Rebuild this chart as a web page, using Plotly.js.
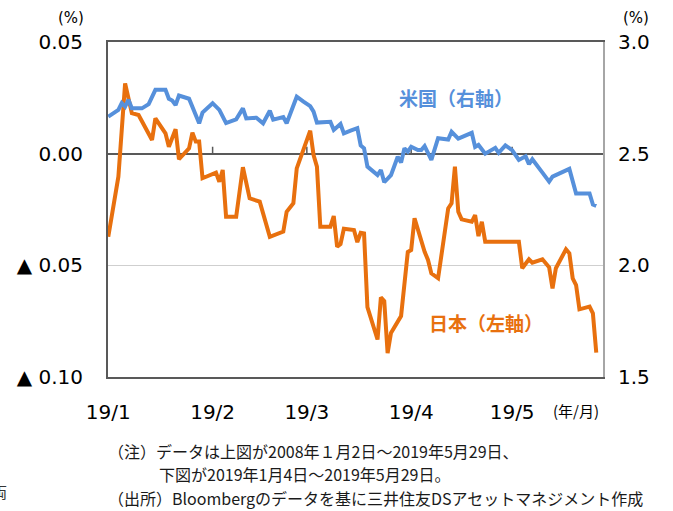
<!DOCTYPE html>
<html>
<head>
<meta charset="utf-8">
<script src="https://cdn.plot.ly/plotly-3.0.1.min.js"></script>
<style>
  html, body { margin: 0; padding: 0; background: #fff; }
  #chart { width: 673px; height: 511px; }
</style>
</head>
<body>
<div id="chart"></div>
<script>
// 日本 10年国債利回り（左軸, %）
const jpDates = [
  '2019-01-04', '2019-01-07', '2019-01-09', '2019-01-11', '2019-01-13', '2019-01-17', '2019-01-18',
  '2019-01-21', '2019-01-22', '2019-01-24', '2019-01-25', '2019-01-28', '2019-01-29', '2019-01-30',
  '2019-01-31', '2019-02-01', '2019-02-05', '2019-02-06', '2019-02-07', '2019-02-08', '2019-02-11',
  '2019-02-13', '2019-02-15', '2019-02-18', '2019-02-21', '2019-02-25', '2019-02-26', '2019-02-28',
  '2019-03-01', '2019-03-04', '2019-03-05', '2019-03-06', '2019-03-07', '2019-03-08', '2019-03-11',
  '2019-03-12', '2019-03-13', '2019-03-14', '2019-03-15', '2019-03-18', '2019-03-19', '2019-03-20',
  '2019-03-21', '2019-03-22', '2019-03-25', '2019-03-26', '2019-03-27', '2019-03-28', '2019-03-29',
  '2019-04-01', '2019-04-03', '2019-04-04', '2019-04-05', '2019-04-08', '2019-04-09', '2019-04-10',
  '2019-04-12', '2019-04-15', '2019-04-16', '2019-04-17', '2019-04-18', '2019-04-19', '2019-04-22',
  '2019-04-23', '2019-04-24', '2019-04-25', '2019-04-26', '2019-05-06', '2019-05-07', '2019-05-09',
  '2019-05-10', '2019-05-13', '2019-05-15', '2019-05-16', '2019-05-17', '2019-05-20', '2019-05-21',
  '2019-05-22', '2019-05-23', '2019-05-24', '2019-05-27', '2019-05-28', '2019-05-29'
];
const jpYield = [
  -0.0372, -0.0103, 0.0315, 0.0181, 0.0173, 0.0061, 0.0158,
  0.0091, 0.0031, 0.0109, -0.0025, 0.0024, 0.0094, 0.0054,
  0.0054, -0.0110, -0.0085, -0.0126, -0.0073, -0.0282, -0.0282,
  -0.0061, -0.0200, -0.0215, -0.0372, -0.0349, -0.0260, -0.0222,
  -0.0066, 0.0054, 0.0103, -0.0006, -0.0058, -0.0327, -0.0327,
  -0.0279, -0.0417, -0.0405, -0.0336, -0.0342, -0.0396, -0.0354,
  -0.0357, -0.0687, -0.0832, -0.0644, -0.0660, -0.0893, -0.0803,
  -0.0727, -0.0440, -0.0431, -0.0289, -0.0439, -0.0476, -0.0536,
  -0.0558, -0.0245, -0.0222, -0.0058, -0.0260, -0.0294, -0.0305,
  -0.0275, -0.0369, -0.0305, -0.0394, -0.0394, -0.0513, -0.0473,
  -0.0488, -0.0473, -0.0509, -0.0603, -0.0513, -0.0428, -0.0446,
  -0.0558, -0.0588, -0.0697, -0.0685, -0.0715, -0.0891
];

// 米国 10年国債利回り（右軸, %）
const usDates = [
  '2019-01-04', '2019-01-07', '2019-01-08', '2019-01-09', '2019-01-10', '2019-01-11', '2019-01-14',
  '2019-01-16', '2019-01-18', '2019-01-21', '2019-01-22', '2019-01-23', '2019-01-24', '2019-01-25',
  '2019-01-28', '2019-01-29', '2019-01-31', '2019-02-01', '2019-02-04', '2019-02-06', '2019-02-08',
  '2019-02-11', '2019-02-13', '2019-02-14', '2019-02-17', '2019-02-19', '2019-02-21', '2019-02-22',
  '2019-02-25', '2019-02-26', '2019-03-01', '2019-03-03', '2019-03-05', '2019-03-06', '2019-03-07',
  '2019-03-11', '2019-03-12', '2019-03-14', '2019-03-15', '2019-03-17', '2019-03-19', '2019-03-20',
  '2019-03-21', '2019-03-22', '2019-03-25', '2019-03-26', '2019-03-27', '2019-03-29', '2019-03-31',
  '2019-04-01', '2019-04-02', '2019-04-03', '2019-04-04', '2019-04-06', '2019-04-07', '2019-04-08',
  '2019-04-10', '2019-04-12', '2019-04-15', '2019-04-16', '2019-04-18', '2019-04-22', '2019-04-23',
  '2019-04-24', '2019-04-26', '2019-04-29', '2019-04-30', '2019-05-02', '2019-05-04', '2019-05-06',
  '2019-05-08', '2019-05-09', '2019-05-10', '2019-05-13', '2019-05-14', '2019-05-15', '2019-05-16',
  '2019-05-21', '2019-05-23', '2019-05-27', '2019-05-28', '2019-05-29'
];
const usYield = [
  2.666, 2.696, 2.727, 2.710, 2.742, 2.703, 2.703,
  2.722, 2.786, 2.786, 2.746, 2.738, 2.718, 2.760,
  2.746, 2.710, 2.636, 2.684, 2.726, 2.696, 2.637,
  2.654, 2.703, 2.658, 2.661, 2.636, 2.692, 2.652,
  2.664, 2.636, 2.755, 2.733, 2.713, 2.688, 2.639,
  2.643, 2.606, 2.633, 2.591, 2.603, 2.614, 2.537,
  2.524, 2.442, 2.404, 2.427, 2.372, 2.404, 2.486,
  2.460, 2.524, 2.509, 2.531, 2.516, 2.516, 2.534,
  2.472, 2.569, 2.563, 2.598, 2.567, 2.593, 2.530,
  2.539, 2.500, 2.526, 2.504, 2.537, 2.516, 2.472,
  2.488, 2.453, 2.475, 2.415, 2.397, 2.375, 2.397,
  2.432, 2.322, 2.322, 2.272, 2.266
];

const monthTicks = ['2019-01-04', '2019-02-04', '2019-03-04', '2019-04-04', '2019-05-04'];
const monthLabels = ['19/1', '19/2', '19/3', '19/4', '19/5'];
const leftTicks = [0.05, 0.00, -0.05, -0.10];
const leftLabels = ['0.05', '0.00', '▲ 0.05', '▲ 0.10'];
const rightTicks = [3.0, 2.5, 2.0, 1.5];
const rightLabels = ['3.0', '2.5', '2.0', '1.5'];

const blue = '#5690db';
const orange = '#e8700e';
const tickFont = { family: 'DejaVu Sans, Verdana, sans-serif', size: 20, color: '#000' };
const jpFont = 'Noto Sans CJK JP, sans-serif';

// plot area in pixels: left 108, right 603, top 42, bottom 377
const L = 108, R = 70, T = 42, B = 134;
const pw = 673 - L - R, ph = 511 - T - B;
const px = x => (x - L) / pw;
const py = y => (T + ph - y) / ph;

const data = [
  {
    x: usDates, y: usYield, yaxis: 'y2', name: '米国',
    mode: 'lines', type: 'scatter',
    line: { color: blue, width: 4, shape: 'linear' }
  },
  {
    x: jpDates, y: jpYield, name: '日本',
    mode: 'lines', type: 'scatter',
    line: { color: orange, width: 4, shape: 'linear' }
  }
];

// small tick marks on the zero line at each month
const shapes = monthTicks.slice(1).map(d => ({
  type: 'line', xref: 'x', yref: 'y', layer: 'between',
  x0: d, x1: d, y0: 0, y1: 0.0031,
  line: { color: '#595959', width: 1.5 }
}));

function note(text, x, y, opts) {
  return Object.assign({
    text: text, xref: 'paper', yref: 'paper', x: px(x), y: py(y),
    xanchor: 'left', yanchor: 'middle', showarrow: false,
    font: { family: jpFont, size: 16, color: '#1a1a1a' }
  }, opts || {});
}

const annotations = [
  note('(%)', 71, 18, { xanchor: 'center', font: { family: 'DejaVu Sans, sans-serif', size: 15, color: '#000' } }),
  note('(%)', 636, 18, { xanchor: 'center', font: { family: 'DejaVu Sans, sans-serif', size: 15, color: '#000' } }),
  note('(年/月)', 576, 410, { xanchor: 'center', font: { family: jpFont, size: 15, color: '#000' } }),
  note('<b>米国（右軸）</b>', 456, 98, { xanchor: 'center', font: { family: jpFont, size: 19, color: blue } }),
  note('<b>日本（左軸）</b>', 486, 322, { xanchor: 'center', font: { family: jpFont, size: 19, color: orange } }),
  note('（注）データは上図が2008年１月2日～2019年5月29日、', 106, 451),
  note('下図が2019年1月4日～2019年5月29日。', 157, 474),
  note('（出所）Bloombergのデータを基に三井住友DSアセットマネジメント作成', 106, 498),
  note('両', 9, 491, { xanchor: 'right', font: { family: jpFont, size: 15, color: '#333' } })
];

const layout = {
  width: 673, height: 511,
  margin: { l: L, r: R, t: T, b: B, pad: 0 },
  paper_bgcolor: '#fff', plot_bgcolor: '#fff',
  showlegend: false,
  xaxis: {
    type: 'date',
    range: ['2019-01-03 22:00', '2019-05-31'],
    tickvals: monthTicks, ticktext: monthLabels,
    ticks: 'outside', ticklen: 16, tickcolor: 'rgba(0,0,0,0)',
    tickfont: tickFont,
    showgrid: false, zeroline: false,
    showline: true, linecolor: '#595959', linewidth: 2, mirror: true
  },
  yaxis: {
    range: [-0.10, 0.05],
    tickvals: leftTicks, ticktext: leftLabels,
    ticks: 'outside', ticklen: 19, tickcolor: 'rgba(0,0,0,0)',
    tickfont: tickFont,
    showgrid: true, gridcolor: '#cfcfcf', gridwidth: 1.5,
    zeroline: true, zerolinecolor: '#595959', zerolinewidth: 2,
    showline: true, linecolor: '#595959', linewidth: 2
  },
  yaxis2: {
    overlaying: 'y', side: 'right',
    range: [1.5, 3.0],
    tickvals: rightTicks, ticktext: rightLabels,
    ticks: 'outside', ticklen: 9, tickcolor: 'rgba(0,0,0,0)',
    tickfont: tickFont,
    showgrid: false, zeroline: false,
    showline: true, linecolor: '#a6a6a6', linewidth: 2
  },
  shapes: shapes,
  annotations: annotations
};

Plotly.newPlot('chart', data, layout, { displayModeBar: false, staticPlot: true });
</script>
</body>
</html>
